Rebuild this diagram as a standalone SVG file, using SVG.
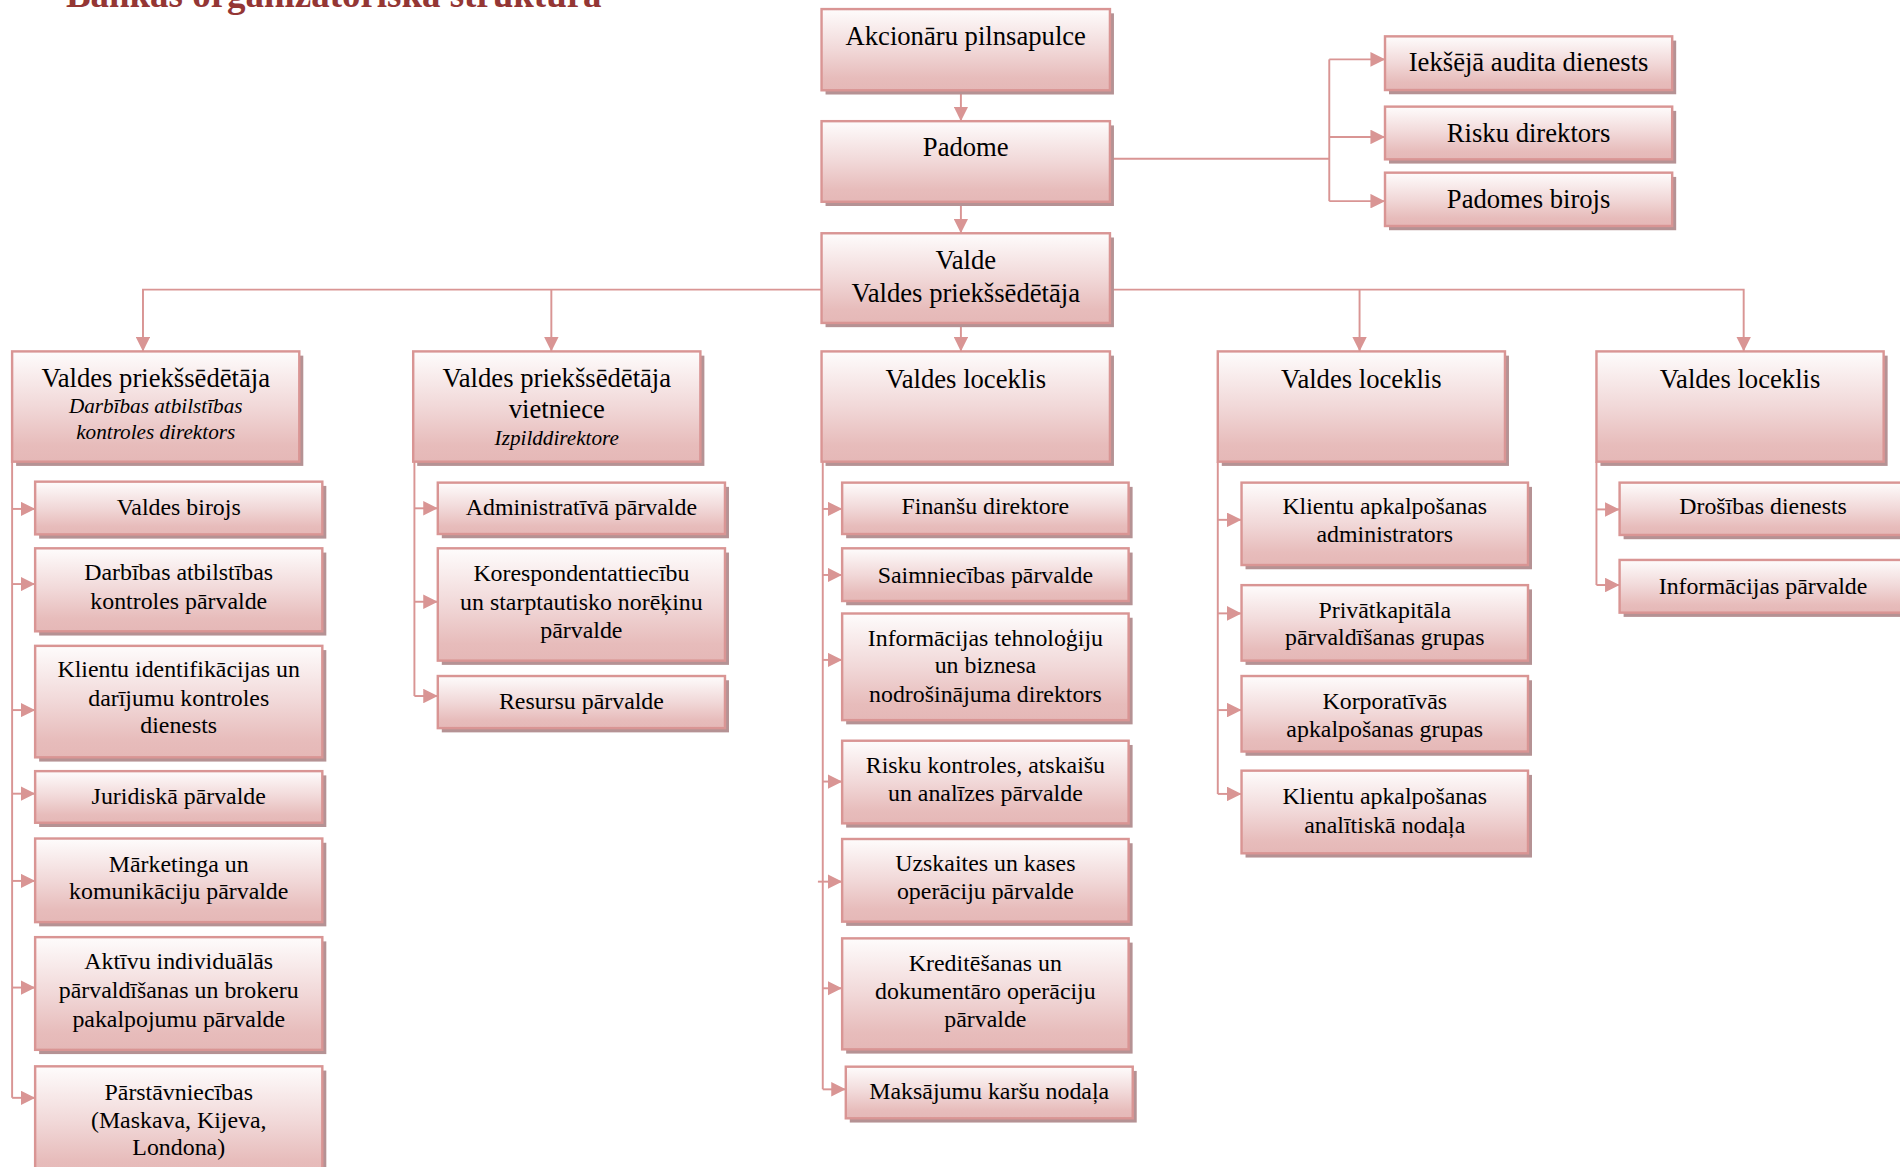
<svg xmlns="http://www.w3.org/2000/svg" width="1900" height="1167" viewBox="0 0 1900 1167">
<defs>
<linearGradient id="g" x1="0" y1="0" x2="0" y2="1">
<stop offset="0" stop-color="#fefcfc"/>
<stop offset="0.5" stop-color="#f1d8d8"/>
<stop offset="0.85" stop-color="#e7bcbb"/>
<stop offset="1" stop-color="#e5b8b7"/>
</linearGradient>
<marker id="ah" markerUnits="userSpaceOnUse" markerWidth="12" markerHeight="12" refX="12" refY="6" orient="auto">
<path d="M0,0 L12,6 L0,12 z" fill="#d99594"/>
</marker>
<style>
.sh{fill:#b59294}
.bx{fill:url(#g);stroke:#d99594;stroke-width:2}
.t{font-family:"Liberation Serif","Times New Roman",serif;font-size:22px;fill:#000;text-anchor:middle}
.s{font-size:19.7px}
.i{font-style:italic;font-size:17.5px}
.c{fill:none;stroke:#d99594;stroke-width:1.6}
.a{marker-end:url(#ah)}
.title{font-family:"Liberation Serif","Times New Roman",serif;font-size:30.5px;font-weight:bold;fill:#943634}
</style>
</defs>
<rect width="1900" height="1167" fill="#ffffff"/>
<g transform="scale(1.21173)">
<text class="title" x="54.4" y="5.5">Bankas organizatoriskā struktūra</text>

<g id="connectors">
<path class="c a" d="M793,75 V100"/>
<path class="c a" d="M793,167 V192.5"/>
<path class="c a" d="M793,267 V290"/>
<path class="c" d="M916,131 H1097"/>
<path class="c" d="M1097,49 V166"/>
<path class="c a" d="M1097,49 H1143"/>
<path class="c a" d="M1097,113 H1143"/>
<path class="c a" d="M1097,166 H1143"/>
<path class="c a" d="M678,239 H118 V290"/>
<path class="c a" d="M455,239 V290"/>
<path class="c a" d="M916,239 H1439 V290"/>
<path class="c a" d="M1122,239 V290"/>
<!-- column 1 -->
<path class="c" d="M10,381 V906"/>
<path class="c a" d="M10,420 H29"/>
<path class="c a" d="M10,482 H29"/>
<path class="c a" d="M10,586 H29"/>
<path class="c a" d="M10,655 H29"/>
<path class="c a" d="M10,727 H29"/>
<path class="c a" d="M10,815 H29"/>
<path class="c a" d="M10,906 H29"/>
<!-- column 2 -->
<path class="c" d="M342,381 V574.4"/>
<path class="c a" d="M342,419.5 H361.3"/>
<path class="c a" d="M342,496.6 H361.3"/>
<path class="c a" d="M342,574.4 H361.3"/>
<!-- column 3 -->
<path class="c" d="M679,381 V899"/>
<path class="c a" d="M679,420 H695"/>
<path class="c a" d="M679,474.5 H695"/>
<path class="c a" d="M679,544.6 H695"/>
<path class="c a" d="M679,645 H695"/>
<path class="c a" d="M675,727.6 H695"/>
<path class="c a" d="M679,815.6 H695"/>
<path class="c a" d="M679,899 H698"/>
<!-- column 4 -->
<path class="c" d="M1005,381 V655.2"/>
<path class="c a" d="M1005,429 H1024.6"/>
<path class="c a" d="M1005,506.2 H1024.6"/>
<path class="c a" d="M1005,586 H1024.6"/>
<path class="c a" d="M1005,655.2 H1024.6"/>
<!-- column 5 -->
<path class="c" d="M1317.5,381 V482.8"/>
<path class="c a" d="M1317.5,420.4 H1336.6"/>
<path class="c a" d="M1317.5,482.8 H1336.6"/>
</g>

<!-- top level -->
<g id="akcionaru">
<rect class="sh" x="681.3" y="11" width="238" height="67"/>
<rect class="bx" x="678" y="7.5" width="238" height="67"/>
<text class="t" x="797" y="37">Akcionāru pilnsapulce</text>
</g>
<g id="padome">
<rect class="sh" x="681.3" y="103.5" width="238" height="66.5"/>
<rect class="bx" x="678" y="100" width="238" height="66.5"/>
<text class="t" x="797" y="129">Padome</text>
</g>
<g id="valde">
<rect class="sh" x="681.3" y="196" width="238" height="74"/>
<rect class="bx" x="678" y="192.5" width="238" height="74"/>
<text class="t" x="797" y="221.6">Valde</text>
<text class="t" x="797" y="249">Valdes priekšsēdētāja</text>
</g>
<g id="iekseja_audita">
<rect class="sh" x="1146.3" y="33.5" width="237" height="44.3"/>
<rect class="bx" x="1143" y="30" width="237" height="44.3"/>
<text class="t" x="1261.5" y="59">Iekšējā audita dienests</text>
</g>
<g id="risku_direktors">
<rect class="sh" x="1146.3" y="91.5" width="237" height="43.5"/>
<rect class="bx" x="1143" y="88" width="237" height="43.5"/>
<text class="t" x="1261.5" y="117">Risku direktors</text>
</g>
<g id="padomes_birojs">
<rect class="sh" x="1146.3" y="146" width="237" height="44"/>
<rect class="bx" x="1143" y="142.5" width="237" height="44"/>
<text class="t" x="1261.5" y="172">Padomes birojs</text>
</g>

<!-- level 2 -->
<g id="valdes_priekssedetaja">
<rect class="sh" x="13.3" y="293.5" width="237" height="91"/>
<rect class="bx" x="10" y="290" width="237" height="91"/>
<text class="t" x="128.5" y="319">Valdes priekšsēdētāja</text>
<text class="t i" x="128.5" y="341">Darbības atbilstības</text>
<text class="t i" x="128.5" y="362.6">kontroles direktors</text>
</g>
<g id="valdes_priekssedetaja_vietniece">
<rect class="sh" x="344.3" y="293.5" width="237" height="91"/>
<rect class="bx" x="341" y="290" width="237" height="91"/>
<text class="t" x="459.5" y="319">Valdes priekšsēdētāja</text>
<text class="t" x="459.5" y="345">vietniece</text>
<text class="t i" x="459.5" y="367.3">Izpilddirektore</text>
</g>
<g id="valdes_loceklis_1">
<rect class="sh" x="681.3" y="293.5" width="238" height="91"/>
<rect class="bx" x="678" y="290" width="238" height="91"/>
<text class="t" x="797" y="320.6">Valdes loceklis</text>
</g>
<g id="valdes_loceklis_2">
<rect class="sh" x="1008.3" y="293.5" width="237" height="91"/>
<rect class="bx" x="1005" y="290" width="237" height="91"/>
<text class="t" x="1123.5" y="320.6">Valdes loceklis</text>
</g>
<g id="valdes_loceklis_3">
<rect class="sh" x="1320.8" y="293.5" width="237" height="91"/>
<rect class="bx" x="1317.5" y="290" width="237" height="91"/>
<text class="t" x="1436" y="320.6">Valdes loceklis</text>
</g>

<!-- column 1 -->
<g id="valdes_birojs">
<rect class="sh" x="32.3" y="401" width="237" height="43.5"/>
<rect class="bx" x="29" y="397.5" width="237" height="43.5"/>
<text class="t s" x="147.5" y="425">Valdes birojs</text>
</g>
<g id="darbibas_parvalde">
<rect class="sh" x="32.3" y="456" width="237" height="68.5"/>
<rect class="bx" x="29" y="452.5" width="237" height="68.5"/>
<text class="t s" x="147.5" y="479">Darbības atbilstības</text>
<text class="t s" x="147.5" y="502.3">kontroles pārvalde</text>
</g>
<g id="klientu_identifikacijas">
<rect class="sh" x="32.3" y="536.5" width="237" height="92"/>
<rect class="bx" x="29" y="533" width="237" height="92"/>
<text class="t s" x="147.5" y="559">Klientu identifikācijas un</text>
<text class="t s" x="147.5" y="582.3">darījumu kontroles</text>
<text class="t s" x="147.5" y="605.3">dienests</text>
</g>
<g id="juridiska">
<rect class="sh" x="32.3" y="639.9" width="237" height="42.6"/>
<rect class="bx" x="29" y="636.4" width="237" height="42.6"/>
<text class="t s" x="147.5" y="663.2">Juridiskā pārvalde</text>
</g>
<g id="marketinga">
<rect class="sh" x="32.3" y="695.5" width="237" height="69"/>
<rect class="bx" x="29" y="692" width="237" height="69"/>
<text class="t s" x="147.5" y="719.7">Mārketinga un</text>
<text class="t s" x="147.5" y="742.3">komunikāciju pārvalde</text>
</g>
<g id="aktivu">
<rect class="sh" x="32.3" y="776.9" width="237" height="93"/>
<rect class="bx" x="29" y="773.4" width="237" height="93"/>
<text class="t s" x="147.5" y="800">Aktīvu individuālās</text>
<text class="t s" x="147.5" y="824">pārvaldīšanas un brokeru</text>
<text class="t s" x="147.5" y="847.3">pakalpojumu pārvalde</text>
</g>
<g id="parstavniecibas">
<rect class="sh" x="32.3" y="883.5" width="237" height="92"/>
<rect class="bx" x="29" y="880" width="237" height="92"/>
<text class="t s" x="147.5" y="908">Pārstāvniecības</text>
<text class="t s" x="147.5" y="931">(Maskava, Kijeva,</text>
<text class="t s" x="147.5" y="953.3">Londona)</text>
</g>

<!-- column 2 -->
<g id="administrativa">
<rect class="sh" x="364.6" y="401.8" width="237" height="42.4"/>
<rect class="bx" x="361.3" y="398.3" width="237" height="42.4"/>
<text class="t s" x="479.8" y="425.3">Administratīvā pārvalde</text>
</g>
<g id="korespondentattiecibu">
<rect class="sh" x="364.6" y="456" width="237" height="92.7"/>
<rect class="bx" x="361.3" y="452.5" width="237" height="92.7"/>
<text class="t s" x="479.8" y="479.5">Korespondentattiecību</text>
<text class="t s" x="479.8" y="503">un starptautisko norēķinu</text>
<text class="t s" x="479.8" y="526.3">pārvalde</text>
</g>
<g id="resursu">
<rect class="sh" x="364.6" y="561.4" width="237" height="43"/>
<rect class="bx" x="361.3" y="557.9" width="237" height="43"/>
<text class="t s" x="479.8" y="585.3">Resursu pārvalde</text>
</g>

<!-- column 3 -->
<g id="finansu">
<rect class="sh" x="698.3" y="401.8" width="236.4" height="42.4"/>
<rect class="bx" x="695" y="398.3" width="236.4" height="42.4"/>
<text class="t s" x="813.2" y="424.3">Finanšu direktore</text>
</g>
<g id="saimniecibas">
<rect class="sh" x="698.3" y="456" width="236.4" height="43.5"/>
<rect class="bx" x="695" y="452.5" width="236.4" height="43.5"/>
<text class="t s" x="813.2" y="480.8">Saimniecības pārvalde</text>
</g>
<g id="informacijas_tehnologiju">
<rect class="sh" x="698.3" y="509.8" width="236.4" height="88"/>
<rect class="bx" x="695" y="506.3" width="236.4" height="88"/>
<text class="t s" x="813.2" y="533">Informācijas tehnoloģiju</text>
<text class="t s" x="813.2" y="555.7">un biznesa</text>
<text class="t s" x="813.2" y="579.3">nodrošinājuma direktors</text>
</g>
<g id="risku_kontroles">
<rect class="sh" x="698.3" y="614.8" width="236.4" height="68.2"/>
<rect class="bx" x="695" y="611.3" width="236.4" height="68.2"/>
<text class="t s" x="813.2" y="637.6">Risku kontroles, atskaišu</text>
<text class="t s" x="813.2" y="661">un analīzes pārvalde</text>
</g>
<g id="uzskaites">
<rect class="sh" x="698.3" y="695.9" width="236.4" height="68.2"/>
<rect class="bx" x="695" y="692.4" width="236.4" height="68.2"/>
<text class="t s" x="813.2" y="718.8">Uzskaites un kases</text>
<text class="t s" x="813.2" y="742.2">operāciju pārvalde</text>
</g>
<g id="kreditesanas">
<rect class="sh" x="698.3" y="777.9" width="236.4" height="91.6"/>
<rect class="bx" x="695" y="774.4" width="236.4" height="91.6"/>
<text class="t s" x="813.2" y="801.2">Kreditēšanas un</text>
<text class="t s" x="813.2" y="824.6">dokumentāro operāciju</text>
<text class="t s" x="813.2" y="847.3">pārvalde</text>
</g>
<g id="maksajumu_karsu">
<rect class="sh" x="701.3" y="883.8" width="236.8" height="42.6"/>
<rect class="bx" x="698" y="880.3" width="236.8" height="42.6"/>
<text class="t s" x="816.4" y="907.2">Maksājumu karšu nodaļa</text>
</g>

<!-- column 4 -->
<g id="klientu_administrators">
<rect class="sh" x="1027.9" y="401.8" width="236.4" height="68"/>
<rect class="bx" x="1024.6" y="398.3" width="236.4" height="68"/>
<text class="t s" x="1142.8" y="424.2">Klientu apkalpošanas</text>
<text class="t s" x="1142.8" y="447.3">administrators</text>
</g>
<g id="privatkapitala">
<rect class="sh" x="1027.9" y="486.4" width="236.4" height="62.3"/>
<rect class="bx" x="1024.6" y="482.9" width="236.4" height="62.3"/>
<text class="t s" x="1142.8" y="509.7">Privātkapitāla</text>
<text class="t s" x="1142.8" y="532.5">pārvaldīšanas grupas</text>
</g>
<g id="korporativas">
<rect class="sh" x="1027.9" y="561.4" width="236.4" height="62.3"/>
<rect class="bx" x="1024.6" y="557.9" width="236.4" height="62.3"/>
<text class="t s" x="1142.8" y="585.4">Korporatīvās</text>
<text class="t s" x="1142.8" y="608.2">apkalpošanas grupas</text>
</g>
<g id="klientu_analitiska">
<rect class="sh" x="1027.9" y="639.5" width="236.4" height="68.2"/>
<rect class="bx" x="1024.6" y="636" width="236.4" height="68.2"/>
<text class="t s" x="1142.8" y="663.7">Klientu apkalpošanas</text>
<text class="t s" x="1142.8" y="687.1">analītiskā nodaļa</text>
</g>

<!-- column 5 -->
<g id="drosibas">
<rect class="sh" x="1339.9" y="401.8" width="237" height="43.2"/>
<rect class="bx" x="1336.6" y="398.3" width="237" height="43.2"/>
<text class="t s" x="1455" y="424.3">Drošības dienests</text>
</g>
<g id="informacijas_parvalde">
<rect class="sh" x="1339.9" y="465.6" width="237" height="43.5"/>
<rect class="bx" x="1336.6" y="462.1" width="237" height="43.5"/>
<text class="t s" x="1455" y="489.9">Informācijas pārvalde</text>
</g>
</g>
</svg>
